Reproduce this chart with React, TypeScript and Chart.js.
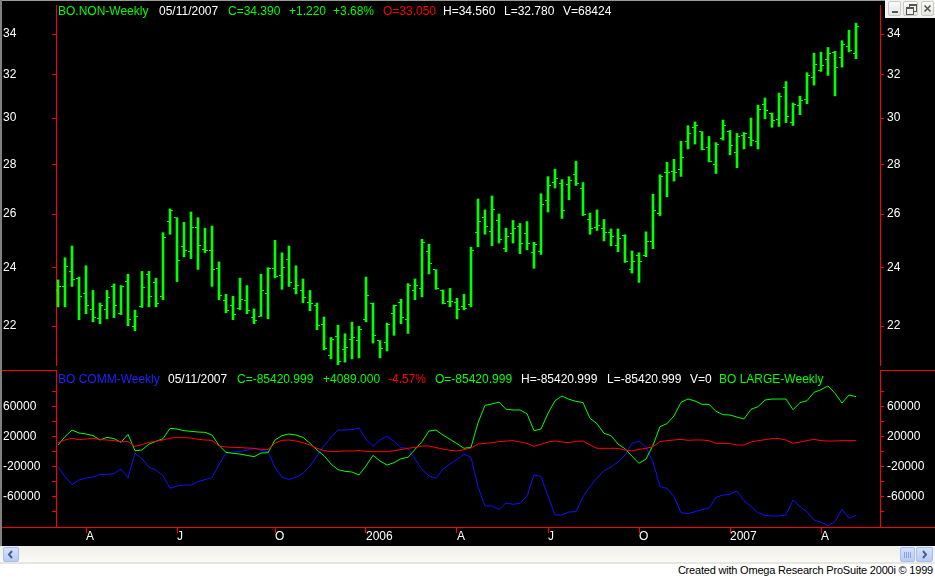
import React, { useEffect, useRef } from 'react';
import { Chart, registerables } from 'chart.js';

Chart.register(...registerables);

const FONT = '"Liberation Sans", Arial, Helvetica, sans-serif';
const GREEN = '#00ff00';
const RED = '#ff0000';
const BLUE = '#1010ff';
const BLUE_TEXT = '#2020ff';
const WHITE = '#ffffff';

// Weekly OHLC (index 0 = 03/04/2005 ... index 114 = 05/11/2007)
const opens = [
  23.19, 23.33, 23.86, 23.63, 23.09, 22.56, 22.26, 22.56, 23.33, 22.42,
  23.52, 21.99, 22.66, 23.76, 23.49, 23.0, 25.7, 25.85, 24.77, 24.6,
  25.49, 24.67, 24.63, 23.99, 22.86, 22.7, 22.59, 22.86, 22.29, 22.32,
  23.09, 23.96, 23.72, 24.28, 23.26, 23.19, 22.78, 22.69, 22.06, 21.05,
  21.65, 21.24, 21.55, 21.52, 22.22, 22.76, 21.52, 21.46, 22.42, 22.79,
  22.22, 23.19, 23.26, 24.6, 23.92, 23.21, 22.82, 22.79, 22.66, 22.72,
  25.31, 25.85, 25.35, 25.74, 24.7, 25.24, 25.53, 25.24, 24.56, 24.6,
  26.52, 27.24, 27.2, 27.16, 27.6, 27.01, 25.78, 25.49, 25.45, 25.31,
  24.81, 25.17, 23.92, 24.45, 24.45, 24.95, 26.03, 27.67, 27.71, 27.79,
  28.98, 29.56, 29.39, 28.71, 27.99, 29.09, 29.39, 28.5, 29.22, 29.14,
  28.97, 30.62, 30.21, 29.94, 31.4, 29.82, 30.58, 30.85, 31.85, 32.22,
  32.75, 33.08, 32.84, 33.37, 33.05,
];
const highs = [
  23.57, 24.36, 24.79, 23.67, 24.07, 23.2, 22.77, 23.2, 23.43, 23.37,
  23.77, 22.53, 23.87, 23.87, 23.63, 25.29, 26.2, 25.86, 25.68, 26.08,
  25.86, 25.46, 25.54, 24.21, 23.07, 23.0, 23.63, 23.37, 22.57, 23.77,
  24.0, 25.0, 24.54, 24.79, 24.07, 23.6, 23.2, 22.77, 22.3, 21.63,
  22.03, 21.75, 22.13, 21.99, 23.67, 22.77, 21.53, 22.1, 22.7, 22.9,
  23.44, 23.6, 25.04, 24.86, 23.93, 23.22, 23.27, 22.93, 23.07, 24.75,
  26.59, 26.16, 26.71, 26.0, 25.46, 25.75, 25.64, 25.71, 24.93, 26.8,
  27.49, 27.8, 27.37, 27.49, 28.13, 27.25, 26.04, 26.16, 25.79, 25.43,
  25.43, 25.21, 24.61, 24.54, 25.32, 26.78, 27.57, 28.09, 28.21, 28.98,
  29.66, 29.83, 29.4, 29.19, 28.92, 29.91, 29.45, 29.32, 29.36, 30.0,
  30.59, 30.91, 30.23, 31.14, 31.68, 30.68, 31.0, 32.1, 33.05, 33.1,
  33.33, 33.14, 33.67, 34.2, 34.56,
];
const lows = [
  22.64, 22.64, 23.34, 22.21, 22.41, 22.14, 22.08, 22.24, 22.28, 22.38,
  22.01, 21.85, 22.62, 22.64, 22.64, 22.88, 25.23, 23.51, 24.39, 24.33,
  23.94, 24.55, 23.34, 22.88, 22.44, 22.21, 22.54, 22.41, 22.08, 22.32,
  22.24, 23.64, 23.24, 23.34, 23.08, 22.78, 22.51, 21.88, 21.23, 20.95,
  20.75, 20.85, 20.95, 20.98, 22.14, 21.45, 20.98, 21.2, 21.7, 22.08,
  21.76, 22.88, 22.98, 23.78, 23.24, 22.74, 22.64, 22.24, 22.54, 22.64,
  24.76, 25.23, 24.8, 24.9, 24.58, 24.9, 24.51, 24.65, 23.98, 24.48,
  26.08, 27.03, 25.83, 26.56, 27.13, 25.94, 25.23, 25.37, 24.98, 24.8,
  24.58, 24.19, 23.81, 23.48, 24.4, 24.69, 25.94, 26.68, 27.31, 27.5,
  28.65, 28.86, 28.61, 28.1, 27.62, 29.03, 28.4, 27.86, 28.65, 28.78,
  28.65, 29.97, 29.59, 29.63, 29.8, 29.67, 30.15, 30.65, 31.51, 32.16,
  31.97, 31.01, 32.37, 33.11, 32.78,
];
const closes = [
  23.33, 24.06, 23.59, 23.0, 22.7, 22.29, 22.67, 22.96, 22.7, 23.33,
  22.21, 22.33, 23.3, 23.0, 22.76, 25.1, 26.15, 24.25, 24.63, 25.49,
  24.81, 24.63, 23.92, 23.03, 22.52, 22.39, 22.89, 22.52, 22.19, 23.19,
  23.97, 23.68, 24.02, 23.49, 23.36, 22.96, 22.76, 22.03, 21.27, 21.55,
  20.87, 21.3, 21.62, 21.9, 23.02, 21.68, 21.27, 22.06, 22.69, 22.29,
  23.36, 23.39, 24.92, 24.17, 23.26, 22.76, 22.82, 22.56, 22.59, 24.63,
  25.71, 25.53, 26.18, 25.03, 25.13, 25.43, 24.88, 24.88, 24.85, 26.38,
  27.13, 27.4, 26.15, 27.32, 27.2, 25.99, 25.45, 25.56, 25.31, 25.13,
  25.07, 24.24, 24.24, 24.24, 24.95, 26.15, 27.49, 27.67, 27.67, 28.28,
  29.31, 29.69, 28.63, 28.11, 28.84, 29.69, 28.8, 29.18, 29.31, 29.01,
  30.4, 30.35, 29.9, 30.99, 30.08, 30.62, 30.8, 31.99, 32.51, 32.46,
  33.03, 32.37, 33.46, 33.17, 34.39,
];

// COT net positions (lower panel)
const commercials = [
  -20500, -33800, -44500, -38300, -35600, -34300, -30700, -30700, -29800, -23600,
  -35100, -2700, -9800, -21400, -24900, -32500, -49400, -46300, -44900, -44900,
  -40500, -37800, -35100, -17800, -2700, -900, -500, 1700, 4000, 1300,
  -500, -21400, -34700, -37400, -34700, -29400, -19600, -6300, 7500, 18600,
  28400, 28400, 28900, 31100, 16000, 6600, 15100, 20400, 13300, 4900,
  4000, -10700, -24000, -32900, -36000, -23600, -16900, -10700, -3600, -8000,
  -47500, -72900, -72900, -77400, -68900, -70700, -69400, -59600, -31600, -33400,
  -59600, -84900, -84900, -80900, -80500, -60500, -47100, -35600, -25800, -20900,
  -14300, -4900, 10600, 13700, 5300, -13800, -47100, -49400, -60500, -81800,
  -83100, -80500, -77800, -75600, -61400, -58300, -57400, -52900, -65800, -73800,
  -81800, -85400, -86300, -86300, -84900, -64900, -73800, -80500, -91600, -94700,
  -99100, -93800, -77400, -89510, -85421,
];
const largeSpecs = [
  8400, 19500, 28400, 24400, 23100, 20900, 15100, 18600, 16850, 12000,
  22600, 850, 1700, 9700, 13300, 16850, 30600, 29700, 27500, 26600,
  25700, 25300, 21700, 7900, -1400, -2700, -3600, -5400, -7200, -2300,
  -1800, 15100, 20900, 23100, 21700, 18600, 10600, 1700, -5800, -16900,
  -24500, -26700, -27600, -31600, -19600, -5400, -12900, -18300, -15200, -9800,
  -8000, 2600, 12800, 27100, 28400, 21700, 16000, 10200, 4000, 5300,
  38000, 61300, 63100, 65700, 56000, 55100, 55100, 50200, 27500, 29700,
  50600, 67500, 73700, 69300, 66600, 64900, 44000, 36900, 24000, 20900,
  9700, 3500, -6700, -16000, -10300, 8000, 32900, 36900, 47100, 65300,
  69700, 67100, 62600, 62600, 53300, 48900, 48400, 45700, 43100, 56000,
  59500, 68400, 69700, 69700, 69700, 55500, 64900, 67500, 78600, 82200,
  87100, 77300, 64400, 75100, 72900,
];
const smallSpecs = [
  11500, 15100, 17300, 15500, 16400, 17300, 15500, 15100, 14200, 12900,
  12900, 6600, 8900, 12000, 13300, 15100, 17700, 18200, 18200, 17700,
  16000, 15100, 14600, 7100, 5700, 5300, 4900, 4400, 4000, 2600,
  2600, 11100, 14600, 15100, 13700, 11500, 8400, 4000, 900, -500,
  0, 400, 400, 900, 0, -500, -500, -500, 900, 2200,
  4000, 5300, 7100, 7100, 4900, 3100, 1300, 400, 2200, 4400,
  9700, 10600, 11500, 12900, 13700, 14200, 12400, 10600, 6600, 9300,
  12400, 13700, 12400, 11500, 13300, 13700, 8400, 4000, 4000, 4000,
  4000, 1700, 400, 2600, 4000, 6200, 12900, 14200, 15100, 16000,
  14600, 15100, 15100, 14200, 10600, 10600, 10200, 8400, 8400, 12400,
  14200, 15500, 16900, 16900, 15100, 10600, 12400, 14200, 16000, 14200,
  13700, 13700, 14200, 14200, 14200,
];

const monthTickIdx = [4, 17, 31, 44, 57, 70, 83, 96, 109];
const monthTickLabels = ['A', 'J', 'O', '2006', 'A', 'J', 'O', '2007', 'A'];
const priceTicks = [22, 24, 26, 28, 30, 32, 34];
const cotTicks = [80000, 60000, 40000, 20000, 0, -20000, -40000, -60000, -80000];
const cotLabelled = [60000, 20000, -20000, -60000];

const upperHeader: [number, string, string][] = [
  [58, 'BO.NON-Weekly', GREEN],
  [159, '05/11/2007', WHITE],
  [228, 'C=34.390', GREEN],
  [289, '+1.220', GREEN],
  [333, '+3.68%', GREEN],
  [383, 'O=33.050', RED],
  [443, 'H=34.560', WHITE],
  [504, 'L=32.780', WHITE],
  [563, 'V=68424', WHITE],
];
const lowerHeader: [number, string, string][] = [
  [58, 'BO COMM-Weekly', BLUE_TEXT],
  [168, '05/11/2007', WHITE],
  [237, 'C=-85420.999', GREEN],
  [323, '+4089.000', GREEN],
  [388, '-4.57%', RED],
  [435, 'O=-85420.999', GREEN],
  [521, 'H=-85420.999', WHITE],
  [607, 'L=-85420.999', WHITE],
  [690, 'V=0', WHITE],
  [719, 'BO LARGE-Weekly', GREEN],
];

const X_MIN = -2 / 7;
const X_MAX = 822 / 7;

function makeTick(side: 'left' | 'right') {
  const c = document.createElement('canvas');
  c.width = 6;
  c.height = 1;
  const g = c.getContext('2d')!;
  g.fillStyle = GREEN;
  g.fillRect(side === 'left' ? 0 : 4, 0, 2, 1);
  return c;
}

function xAxis(display: boolean, height: number): any {
  return {
    type: 'linear',
    position: 'bottom',
    display,
    offset: false,
    min: X_MIN,
    max: X_MAX,
    bounds: 'data',
    afterBuildTicks: (s: any) => {
      s.ticks = monthTickIdx.map((v) => ({ value: v }));
    },
    afterFit: (s: any) => {
      s.height = height;
      s.paddingLeft = 0;
      s.paddingRight = 0;
    },
    ticks: {
      autoSkip: false,
      maxRotation: 0,
      minRotation: 0,
      align: 'start',
      padding: -2,
      color: WHITE,
      font: { family: FONT, size: 12, lineHeight: 1 },
      callback: (_v: any, i: number) => monthTickLabels[i] ?? '',
    },
    grid: { display: true, offset: false, drawOnChartArea: false, drawTicks: true, tickLength: 6, color: RED, lineWidth: 1 },
    border: { display: true, color: RED, width: 1 },
  };
}

function yAxis(position: 'left' | 'right', type: string, min: number, max: number, ticksArr: number[], labelFn: (v: number) => string): any {
  return {
    type,
    position,
    min,
    max,
    bounds: 'data',
    afterBuildTicks: (s: any) => {
      s.ticks = ticksArr.map((v) => ({ value: v }));
    },
    afterFit: (s: any) => {
      s.width = position === 'left' ? 53 : 55;
      s.paddingTop = 0;
      s.paddingBottom = 0;
    },
    ticks: {
      autoSkip: false,
      color: WHITE,
      padding: 3,
      crossAlign: position === 'left' ? 'far' : 'near',
      font: { family: FONT, size: 12 },
      callback: (v: any) => labelFn(Number(v)),
    },
    grid: { display: true, drawOnChartArea: false, drawTicks: true, tickLength: 4, color: RED, lineWidth: 1 },
    border: { display: true, color: RED, width: 1 },
  };
}

export default function App() {
  const upRef = useRef<HTMLCanvasElement>(null);
  const loRef = useRef<HTMLCanvasElement>(null);

  useEffect(() => {
    document.body.style.margin = '0';
    const weeks = opens.map((_, i) => i);
    const openImg = makeTick('left');
    const closeImg = makeTick('right');
    const noSmooth = {
      id: 'noSmooth',
      beforeDatasetsDraw(c: any) {
        c.ctx.imageSmoothingEnabled = false;
      },
    };
    const common: any = {
      responsive: false,
      maintainAspectRatio: false,
      animation: false,
      devicePixelRatio: 1,
      events: [],
      layout: { padding: { left: 3, right: 0, top: 0, bottom: 0 } },
      plugins: { legend: { display: false }, title: { display: false }, tooltip: { enabled: false } },
    };

    const PMIN = 20.76;
    const PMAX = 35.51;
    const up = new Chart(upRef.current!, {
      type: 'bar',
      data: {
        datasets: [
          {
            type: 'line',
            data: weeks.map((i) => ({ x: i, y: opens[i] })),
            showLine: false,
            pointStyle: openImg as any,
            pointRadius: 3,
            yAxisID: 'y',
          } as any,
          {
            type: 'line',
            data: weeks.map((i) => ({ x: i, y: closes[i] })),
            showLine: false,
            pointStyle: closeImg as any,
            pointRadius: 3,
            yAxisID: 'y',
          } as any,
          {
            type: 'bar',
            data: weeks.map((i) => ({ x: i, y: [lows[i], highs[i]] })),
            backgroundColor: GREEN,
            borderWidth: 0,
            barThickness: 2,
            grouped: false,
            yAxisID: 'y',
          } as any,
        ],
      },
      options: {
        ...common,
        scales: {
          x: xAxis(false, 0),
          y: yAxis('left', 'logarithmic', PMIN, PMAX, priceTicks, (v) => String(v)),
          yR: yAxis('right', 'logarithmic', PMIN, PMAX, priceTicks, (v) => String(v)),
        },
      },
      plugins: [noSmooth],
    });

    const CMIN = -100930;
    const CMAX = 108400;
    const cotLabel = (v: number) => (cotLabelled.includes(v) ? String(v) : '');
    const lo = new Chart(loRef.current!, {
      type: 'line',
      data: {
        datasets: [
          { data: weeks.map((i) => ({ x: i, y: smallSpecs[i] })), borderColor: RED, borderWidth: 1, pointRadius: 0, tension: 0, yAxisID: 'y' },
          { data: weeks.map((i) => ({ x: i, y: largeSpecs[i] })), borderColor: GREEN, borderWidth: 1, pointRadius: 0, tension: 0, yAxisID: 'y' },
          { data: weeks.map((i) => ({ x: i, y: commercials[i] })), borderColor: BLUE, borderWidth: 1, pointRadius: 0, tension: 0, yAxisID: 'y' },
        ] as any,
      },
      options: {
        ...common,
        scales: {
          x: xAxis(true, 19),
          y: yAxis('left', 'linear', CMIN, CMAX, cotTicks, cotLabel),
          yR: yAxis('right', 'linear', CMIN, CMAX, cotTicks, cotLabel),
        },
      },
    });

    return () => {
      up.destroy();
      lo.destroy();
    };
  }, []);

  const abs = (l: number, t: number, w: number, h: number, bg: string): React.CSSProperties => ({
    position: 'absolute',
    left: l,
    top: t,
    width: w,
    height: h,
    background: bg,
  });

  const hdr = (items: [number, string, string][], top: number) =>
    items.map(([x, t, c], k) => (
      <span
        key={k}
        style={{
          position: 'absolute',
          left: x,
          top,
          color: c,
          fontFamily: FONT,
          fontSize: 12,
          lineHeight: '14px',
          whiteSpace: 'nowrap',
        }}
      >
        {t}
      </span>
    ));

  const btn: React.CSSProperties = {
    position: 'absolute',
    top: 1,
    height: 15,
    background: 'linear-gradient(#fbfbfb, #e4e4e0)',
    border: '1px solid #c9c9c6',
    borderRadius: 2,
    boxSizing: 'border-box',
  };

  return (
    <div style={{ position: 'relative', width: 935, height: 578, background: '#ffffff', overflow: 'hidden' }}>
      <div style={abs(0, 0, 935, 546, '#000000')} />
      <canvas ref={upRef} width={935} height={370} style={{ position: 'absolute', left: 0, top: 0 }} />
      <canvas ref={loRef} width={935} height={176} style={{ position: 'absolute', left: 0, top: 370 }} />
      <div style={abs(0, 370, 56, 1, RED)} />
      <div style={abs(880, 370, 55, 1, RED)} />
      <div style={abs(0, 527, 56, 1, RED)} />
      <div style={abs(880, 527, 55, 1, RED)} />
      <div style={abs(0, 0, 935, 1, '#9a9a9a')} />
      <div style={abs(0, 0, 2, 546, '#808080')} />
      {hdr(upperHeader, 4)}
      {hdr(lowerHeader, 372)}

      <div style={abs(885, 0, 50, 18, '#f2f2ef')}>
        <div style={{ ...btn, left: 3, width: 13 }}>
          <div style={abs(3, 9, 6, 2, '#555555')} />
        </div>
        <div style={{ ...btn, left: 18, width: 15 }}>
          <div style={{ position: 'absolute', left: 5, top: 2, width: 6, height: 5, border: '1px solid #555', borderTopWidth: 2 }} />
          <div style={{ position: 'absolute', left: 2, top: 5, width: 6, height: 5, border: '1px solid #555', borderTopWidth: 2, background: '#eee' }} />
        </div>
        <div style={{ ...btn, left: 36, width: 13 }}>
          <svg width={11} height={13} style={{ position: 'absolute', left: 0, top: 0 }}>
            <path d="M2.5 3.5 L8.5 9.5 M8.5 3.5 L2.5 9.5" stroke="#555" strokeWidth={1.6} />
          </svg>
        </div>
      </div>

      <div style={{ ...abs(0, 546, 935, 17, 'linear-gradient(#efeee7, #fbfbf9)') }} />
      <div style={abs(0, 562, 935, 2, '#e6e5de')} />
      <div style={{ ...abs(3, 547, 16, 15, 'linear-gradient(#d4e0fd, #b8cbf8)'), border: '1px solid #a9bde9', borderRadius: 2, boxSizing: 'border-box' }}>
        <svg width={14} height={13} style={{ position: 'absolute', left: 0, top: 0 }}>
          <path d="M8 3 L5 6.5 L8 10" stroke="#4d6185" strokeWidth={2} fill="none" />
        </svg>
      </div>
      <div style={{ ...abs(900, 547, 15, 15, 'linear-gradient(#d4e0fd, #b8cbf8)'), border: '1px solid #a9bde9', borderRadius: 2, boxSizing: 'border-box' }}>
        <svg width={13} height={13} style={{ position: 'absolute', left: 0, top: 0 }}>
          <path d="M3.5 4 V10 M5.5 4 V10 M7.5 4 V10 M9.5 4 V10" stroke="#8aa2d8" strokeWidth={1} />
        </svg>
      </div>
      <div style={{ ...abs(916, 547, 17, 15, 'linear-gradient(#d4e0fd, #b8cbf8)'), border: '1px solid #a9bde9', borderRadius: 2, boxSizing: 'border-box' }}>
        <svg width={15} height={13} style={{ position: 'absolute', left: 0, top: 0 }}>
          <path d="M6 3 L9 6.5 L6 10" stroke="#4d6185" strokeWidth={2} fill="none" />
        </svg>
      </div>

      <div
        style={{
          position: 'absolute',
          right: 2,
          top: 564,
          fontFamily: FONT,
          fontSize: 11,
          letterSpacing: -0.2,
          lineHeight: '13px',
          color: '#000000',
          whiteSpace: 'nowrap',
        }}
      >
        Created with Omega Research ProSuite 2000i © 1999
      </div>
    </div>
  );
}
